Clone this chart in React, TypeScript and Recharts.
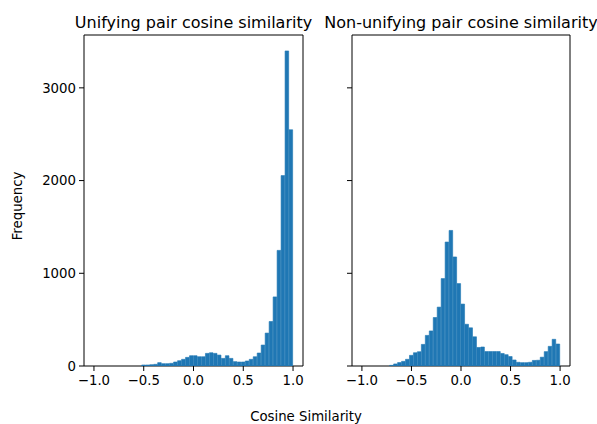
import React from 'react';
import { BarChart, Bar, XAxis, YAxis, ReferenceArea } from 'recharts';

// 50 bins of width 0.04 over [-1, 1], values are bin centres
const binCenters = [
  -0.98, -0.94, -0.9, -0.86, -0.82, -0.78, -0.74, -0.7, -0.66, -0.62,
  -0.58, -0.54, -0.5, -0.46, -0.42, -0.38, -0.34, -0.3, -0.26, -0.22,
  -0.18, -0.14, -0.1, -0.06, -0.02, 0.02, 0.06, 0.1, 0.14, 0.18,
  0.22, 0.26, 0.3, 0.34, 0.38, 0.42, 0.46, 0.5, 0.54, 0.58,
  0.62, 0.66, 0.7, 0.74, 0.78, 0.82, 0.86, 0.9, 0.94, 0.98,
];

const unifyingCounts = [
  0, 0, 0, 0, 0, 0, 0, 0, 0, 0,
  0, 0, 11, 11, 14, 18, 36, 25, 25, 29,
  43, 57, 72, 93, 111, 111, 100, 100, 136, 143,
  136, 118, 82, 111, 82, 47, 43, 43, 54, 72,
  100, 140, 226, 355, 480, 745, 1247, 2054, 3398, 2548,
];

const nonUnifyingCounts = [
  0, 0, 0, 0, 0, 0, 0, 7, 22, 37,
  50, 72, 115, 143, 154, 233, 330, 378, 523, 635,
  943, 1337, 1462, 1176, 889, 668, 450, 412, 315, 200,
  205, 156, 156, 156, 156, 135, 122, 102, 65, 40,
  36, 36, 40, 60, 62, 95, 155, 212, 288, 237,
];

const xTicks = [-1, -0.5, 0, 0.5, 1];
const yTicks = [0, 1000, 2000, 3000];
const X_DOMAIN: [number, number] = [-1.1, 1.1];
const Y_MAX = 3570;
const BIN_WIDTH = 0.04;

const FONT = 'DejaVu Sans';
const BLUE = '#1f77b4';

const fmtX = (v: number) => (v < 0 ? '\u2212' + Math.abs(v).toFixed(1) : v.toFixed(1));

interface PanelProps {
  counts: number[];
  left: number;
  width: number;
  yAxisWidth: number;
  marginRight: number;
  showYLabels: boolean;
}

const Panel: React.FC<PanelProps> = ({ counts, left, width, yAxisWidth, marginRight, showYLabels }) => {
  const data = binCenters.map((x, i) => ({ x, count: counts[i] }));
  const plotW = width - yAxisWidth - marginRight;
  const barSize = (plotW * BIN_WIDTH) / (X_DOMAIN[1] - X_DOMAIN[0]);
  const tickStyle = { fill: '#000', fontSize: 13.3, fontFamily: FONT };

  return (
    <div style={{ position: 'absolute', left, top: 0 }}>
      <BarChart width={width} height={400} data={data} margin={{ top: 35, right: marginRight, bottom: 0, left: 0 }}>
        <XAxis
          dataKey="x"
          type="number"
          domain={X_DOMAIN}
          ticks={xTicks}
          interval={0}
          tickFormatter={fmtX}
          tick={tickStyle}
          tickSize={5}
          tickMargin={5}
          height={34}
          axisLine={false}
          tickLine={{ stroke: '#000', strokeWidth: 1 }}
          allowDataOverflow
        />
        <YAxis
          type="number"
          domain={[0, Y_MAX]}
          ticks={yTicks}
          interval={0}
          width={yAxisWidth}
          tick={tickStyle}
          tickFormatter={(v: number) => (showYLabels ? String(v) : '')}
          tickSize={5}
          tickMargin={3}
          axisLine={false}
          tickLine={{ stroke: '#000', strokeWidth: 1 }}
          allowDataOverflow
        />
        <Bar
          dataKey="count"
          fill={BLUE}
          stroke={BLUE}
          strokeWidth={0.6}
          barSize={barSize}
          isAnimationActive={false}
        />
        <ReferenceArea
          x1={X_DOMAIN[0]}
          x2={X_DOMAIN[1]}
          y1={0}
          y2={Y_MAX}
          fill="none"
          stroke="#000"
          strokeWidth={1}
          ifOverflow="visible"
        />
      </BarChart>
    </div>
  );
};

export default function App() {
  return (
    <div style={{ position: 'absolute', left: 0, top: 0, width: 597, height: 424, background: '#fff', overflow: 'hidden', fontFamily: FONT }}>
      <Panel counts={unifyingCounts} left={0} width={310} yAxisWidth={84} marginRight={7} showYLabels />
      <Panel counts={nonUnifyingCounts} left={300} width={297} yAxisWidth={52} marginRight={27} showYLabels={false} />
      <svg width={597} height={424} style={{ position: 'absolute', left: 0, top: 0, pointerEvents: 'none' }}>
        <text x={193.5} y={28} textAnchor="middle" fontSize={16} fontFamily={FONT} fill="#000">
          Unifying pair cosine similarity
        </text>
        <text x={461} y={28} textAnchor="middle" fontSize={16} fontFamily={FONT} fill="#000">
          Non-unifying pair cosine similarity
        </text>
        <text x={306} y={421} textAnchor="middle" fontSize={13.3} fontFamily={FONT} fill="#000">
          Cosine Similarity
        </text>
        <text
          x={21.5}
          y={206}
          textAnchor="middle"
          fontSize={13.3}
          fontFamily={FONT}
          fill="#000"
          transform="rotate(-90 21.5 206)"
        >
          Frequency
        </text>
      </svg>
    </div>
  );
}
